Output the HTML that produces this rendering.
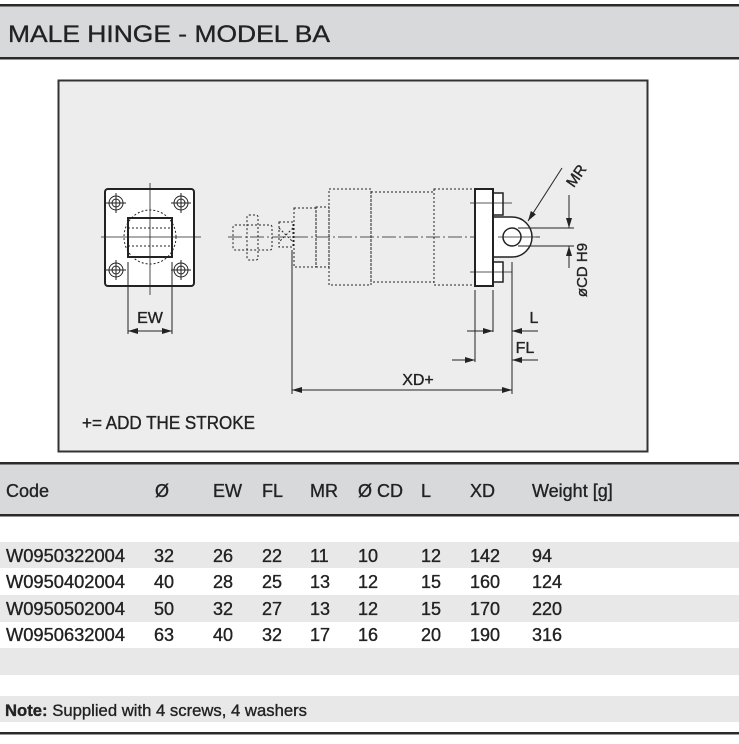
<!DOCTYPE html>
<html><head><meta charset="utf-8"><style>
html,body{margin:0;padding:0;background:#fff}
body{width:739px;height:739px;overflow:hidden}
svg text{font-family:"Liberation Sans",sans-serif;fill:#222;stroke:#222;stroke-width:0.35}
</style></head><body>
<svg width="739" height="739" viewBox="0 0 739 739" xmlns="http://www.w3.org/2000/svg">
<defs>
<marker id="a" viewBox="0 0 10 6" refX="10" refY="3" markerWidth="10" markerHeight="6" orient="auto-start-reverse" markerUnits="userSpaceOnUse"><path d="M0,0L10,3L0,6z" fill="#222"/></marker>
</defs>
<rect x="0" y="6" width="739" height="52" fill="#d8d9db"/>
<rect x="0" y="4" width="739" height="2.5" fill="#2a2a2a"/>
<rect x="0" y="57" width="739" height="2.5" fill="#2a2a2a"/>
<text x="8" y="42" font-size="24" textLength="322" lengthAdjust="spacingAndGlyphs">MALE HINGE - MODEL BA</text>
<rect x="58.5" y="80.5" width="589" height="371" fill="#ecedec" stroke="#333" stroke-width="2"/>
<g fill="none" stroke="#222" stroke-width="1">
<rect x="105" y="189" width="89" height="97" rx="3" fill="#fff" stroke-width="2"/>
<ellipse cx="150" cy="237" rx="26" ry="27" stroke-dasharray="2,2"/>
<rect x="128" y="218" width="44" height="39" stroke-width="2"/>
<line x1="128" y1="228" x2="172" y2="228" stroke-dasharray="2,2"/>
<line x1="128" y1="246" x2="172" y2="246" stroke-dasharray="2,2"/>
<g><circle cx="116" cy="203" r="7"/><circle cx="116" cy="203" r="4"/><circle cx="181" cy="203" r="7"/><circle cx="181" cy="203" r="4"/><circle cx="116" cy="270" r="7"/><circle cx="116" cy="270" r="4"/><circle cx="181" cy="270" r="7"/><circle cx="181" cy="270" r="4"/>
<path d="M106 203h20M116 193v20M171 203h20M181 193v20M106 270h20M116 260v20M171 270h20M181 260v20"/></g>
<path d="M101 237h100M150 183v112" stroke-width="0.8"/>
<path d="M128 262v72M172 262v72"/>
<line x1="128" y1="331" x2="172" y2="331" marker-start="url(#a)" marker-end="url(#a)"/>
<path d="M228 237h312" stroke-dasharray="14,3,2,3" stroke-width="0.8"/>
<g stroke-dasharray="2,2">
<rect x="233" y="225" width="39" height="25" rx="2"/>
<rect x="247" y="215" width="11" height="45" rx="2"/>
<rect x="279" y="222" width="14" height="25"/>
<path d="M279 228l14 14M293 228l-14 14"/>
<rect x="294" y="208" width="22" height="59"/>
<rect x="316" y="207" width="13" height="60"/>
<rect x="329" y="189" width="42" height="96"/>
<rect x="371" y="192" width="63" height="90"/>
<rect x="434" y="189" width="41" height="96"/>
</g>
<path d="M493 193h10v22h-10M493 262h10v20h-10" fill="#fff" stroke-width="1.5"/>
<path d="M493 217h19a20 20 0 0 1 0 40h-19" fill="#fff" stroke-width="1.5"/>
<circle cx="512" cy="237" r="9" stroke-width="1.5"/>
<rect x="475" y="189" width="18" height="97" fill="#fff" stroke-width="2"/>
<path d="M470 203h42M470 272h42M498 237h42" stroke-width="0.8"/>
<line x1="562" y1="168" x2="528" y2="221" marker-end="url(#a)"/>
<path d="M518 228h56M518 246h56"/>
<line x1="569" y1="195" x2="569" y2="228" marker-end="url(#a)"/>
<line x1="569" y1="268" x2="569" y2="246" marker-end="url(#a)"/>
<path d="M475 290v72M493 290v42M512 262v132M292 250v144"/>
<line x1="467" y1="331" x2="493" y2="331" marker-end="url(#a)"/>
<line x1="538" y1="331" x2="512" y2="331" marker-end="url(#a)"/>
<line x1="452" y1="360" x2="475" y2="360" marker-end="url(#a)"/>
<line x1="538" y1="360" x2="512" y2="360" marker-end="url(#a)"/>
<line x1="292" y1="390" x2="512" y2="390" marker-start="url(#a)" marker-end="url(#a)"/>
</g>
<text x="150" y="323" font-size="16" text-anchor="middle">EW</text>
<text x="534" y="323" font-size="16" text-anchor="middle">L</text>
<text x="525" y="353" font-size="16" text-anchor="middle">FL</text>
<text x="418" y="385" font-size="16" text-anchor="middle">XD+</text>
<text x="578" y="180" font-size="15" text-anchor="middle" transform="rotate(-55 578 177)">MR</text>
<text x="587" y="270" font-size="15" text-anchor="middle" transform="rotate(-90 587 270)">øCD H9</text>
<text x="82" y="429" font-size="18" textLength="173" lengthAdjust="spacingAndGlyphs">+= ADD THE STROKE</text>
<rect x="0" y="464" width="739" height="51" fill="#d8d9db"/>
<rect x="0" y="462" width="739" height="2.5" fill="#2a2a2a"/>
<rect x="0" y="514" width="739" height="2.5" fill="#2a2a2a"/>
<rect x="0" y="542" width="739" height="26" fill="#e8e8e9"/>
<rect x="0" y="595" width="739" height="27" fill="#e8e8e9"/>
<rect x="0" y="648" width="739" height="27" fill="#e8e8e9"/>
<rect x="0" y="696" width="739" height="26" fill="#e8e8e9"/>
<rect x="0" y="732" width="739" height="2.5" fill="#2a2a2a"/>
<g font-size="18">
<text x="6" y="497">Code</text><text x="155" y="497">Ø</text><text x="213" y="497">EW</text><text x="262" y="497">FL</text><text x="310" y="497">MR</text><text x="358" y="497">Ø CD</text><text x="421" y="497">L</text><text x="470" y="497">XD</text><text x="532" y="497">Weight [g]</text>
</g>
<g font-size="18">
<g transform="translate(0,562)"><text x="6" textLength="119" lengthAdjust="spacingAndGlyphs">W0950322004</text><text x="154">32</text><text x="213">26</text><text x="262">22</text><text x="310">11</text><text x="358">10</text><text x="421">12</text><text x="470">142</text><text x="532">94</text></g>
<g transform="translate(0,588)"><text x="6" textLength="119" lengthAdjust="spacingAndGlyphs">W0950402004</text><text x="154">40</text><text x="213">28</text><text x="262">25</text><text x="310">13</text><text x="358">12</text><text x="421">15</text><text x="470">160</text><text x="532">124</text></g>
<g transform="translate(0,615)"><text x="6" textLength="119" lengthAdjust="spacingAndGlyphs">W0950502004</text><text x="154">50</text><text x="213">32</text><text x="262">27</text><text x="310">13</text><text x="358">12</text><text x="421">15</text><text x="470">170</text><text x="532">220</text></g>
<g transform="translate(0,641)"><text x="6" textLength="119" lengthAdjust="spacingAndGlyphs">W0950632004</text><text x="154">63</text><text x="213">40</text><text x="262">32</text><text x="310">17</text><text x="358">16</text><text x="421">20</text><text x="470">190</text><text x="532">316</text></g>
</g>
<text x="5" y="716" font-size="17" textLength="302" lengthAdjust="spacingAndGlyphs"><tspan font-weight="bold">Note:</tspan> Supplied with 4 screws, 4 washers</text>
</svg>
</body></html>
